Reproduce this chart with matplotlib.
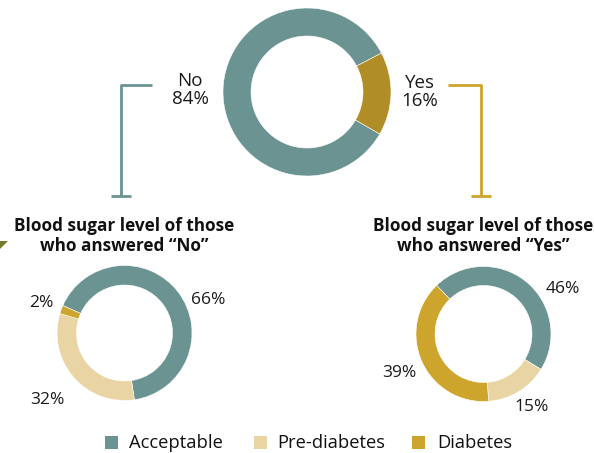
import matplotlib.pyplot as plt
from matplotlib.patches import Rectangle, Polygon

plt.rcParams['font.family'] = ['Open Sans', 'DejaVu Sans']

top_labels = ['No', 'Yes']
top_values = [84, 16]
categories = ['Acceptable', 'Pre-diabetes', 'Diabetes']
no_values = [66, 32, 2]
yes_values = [46, 15, 39]

teal = '#6a9392'
mustard = '#b08d26'
pre_col = '#e8d5a3'
diab_col = '#cda42c'
cat_colors = [teal, pre_col, diab_col]

W, H = 594, 453


def Y(y):
    # image pixel row -> data y (y up)
    return H - y


fig = plt.figure(figsize=(5.94, 4.53), dpi=100)
ax = fig.add_axes([0, 0, 1, 1])

# top donut
ax.pie(top_values, colors=[teal, mustard], center=(307, Y(92)), radius=84,
       startangle=-30, counterclock=False,
       wedgeprops=dict(width=28, edgecolor='white', linewidth=0.4))

# bottom donuts
ax.pie(no_values, colors=cat_colors, center=(124.5, Y(333)), radius=67.5,
       startangle=156, counterclock=False,
       wedgeprops=dict(width=19.5, edgecolor='white', linewidth=0.4))
ax.pie(yes_values, colors=cat_colors, center=(483.5, Y(334)), radius=67.5,
       startangle=134, counterclock=False,
       wedgeprops=dict(width=19, edgecolor='white', linewidth=0.4))

ax.set_xlim(0, W)
ax.set_ylim(0, H)
ax.set_aspect('auto')
ax.axis('off')

txt_col = '#1a1a1a'

# top labels
ax.text(190, Y(90), f'{top_labels[0]}\n{top_values[0]}%', ha='center', va='center',
        fontsize=13.5, color=txt_col, linespacing=1.0)
ax.text(420, Y(92), f'{top_labels[1]}\n{top_values[1]}%', ha='center', va='center',
        fontsize=13.5, color=txt_col, linespacing=1.0)

# brackets
ax.plot([152, 121, 121], [Y(85), Y(85), Y(196)], color=teal, lw=2, solid_capstyle='butt')
ax.plot([111, 131], [Y(196), Y(196)], color=teal, lw=2, solid_capstyle='butt')
ax.plot([448, 481, 481], [Y(85), Y(85), Y(196)], color=diab_col, lw=2, solid_capstyle='butt')
ax.plot([471, 491], [Y(196), Y(196)], color=diab_col, lw=2, solid_capstyle='butt')

# small triangle on left edge
ax.add_patch(Polygon([(0, Y(241)), (8, Y(241)), (0, Y(249))], closed=True,
                     color='#7a7a2c', lw=0))

# titles
ax.text(124, Y(236), 'Blood sugar level of those\nwho answered \u201cNo\u201d', ha='center',
        va='center', fontsize=12.3, fontweight='bold', color='#111111', linespacing=1.1)
ax.text(483, Y(236), 'Blood sugar level of those\nwho answered \u201cYes\u201d', ha='center',
        va='center', fontsize=12.3, fontweight='bold', color='#111111', linespacing=1.1)

# percentage labels
pct_kw = dict(ha='center', va='center', fontsize=12.5, color=txt_col)
ax.text(208, Y(300), f'{no_values[0]}%', **pct_kw)
ax.text(47, Y(400), f'{no_values[1]}%', **pct_kw)
ax.text(41, Y(303), f'{no_values[2]}%', **pct_kw)
ax.text(563, Y(289), f'{yes_values[0]}%', **pct_kw)
ax.text(532, Y(407), f'{yes_values[1]}%', **pct_kw)
ax.text(399, Y(373), f'{yes_values[2]}%', **pct_kw)

# legend
sq_x = [105, 254, 412]
tx_x = [129, 277, 437]
for sx, tx, lab, col in zip(sq_x, tx_x, categories, cat_colors):
    ax.add_patch(Rectangle((sx, Y(449)), 13, 13, color=col, lw=0))
    ax.text(tx, Y(442.5), lab, ha='left', va='center', fontsize=13.2, color='#111111')

fig.savefig('out.png', dpi=100)
